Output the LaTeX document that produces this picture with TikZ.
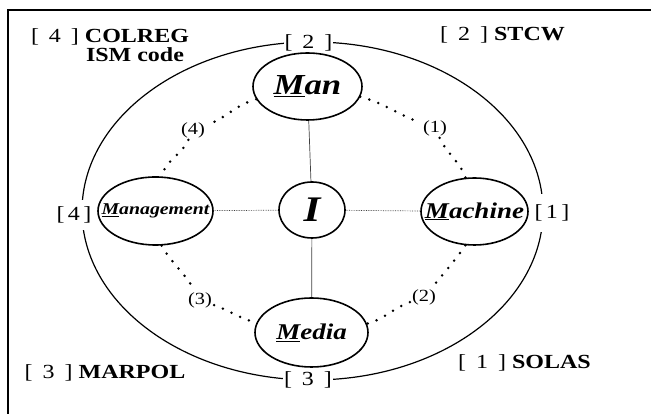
\documentclass[tikz,border=0pt]{standalone}
\usepackage{fontspec}
\newfontfamily\widefont{Liberation Serif}[FakeStretch=1.2]
\usetikzlibrary{backgrounds,shapes,shapes.geometric,positioning}
\pgfdeclarelayer{edgelayer}
\pgfdeclarelayer{nodelayer}
\pgfsetlayers{background,edgelayer,nodelayer,main}
\tikzstyle{none}=[inner sep=0mm]
\tikzstyle{oval}=[shape=ellipse,draw=black,line width=1.6pt,inner sep=0pt]
\tikzstyle{tag}=[fill=white,inner sep=1pt,font=\widefont\fontsize{20}{22}\selectfont]
\tikzstyle{law}=[inner sep=0pt,font=\widefont\fontsize{20}{22}\selectfont]
\tikzstyle{num}=[inner sep=2pt,font=\widefont\fontsize{17}{19}\selectfont]
\tikzstyle{dotarc}=[line width=2.8pt,line cap=round,dash pattern=on 0pt off 9.5pt]
\tikzstyle{spoke}=[line width=0.7pt,draw=black!75]
\tikzstyle{hspoke}=[spoke,densely dotted]
\tikzset{
	word/.style={inner sep=0pt,font=\widefont\bfseries\itshape\fontsize{#1}{#1}\selectfont}
}

\begin{document}
\begin{tikzpicture}[x=1pt,y=1pt]
	\useasboundingbox (0,0) rectangle (651,414);
	% frame
	\draw [line width=2pt] (651,404) -- (8,404) -- (8,0);
	\begin{pgfonlayer}{nodelayer}
		\node [style=oval, minimum width=109pt, minimum height=67pt, label={[word=29]center:{\underline{M}an}}] (man) at (307.5,327.5) {};
		\node [style=oval, minimum width=66pt, minimum height=56pt, label={[word=36]center:{I}}] (i) at (312,204) {};
		\node [style=oval, minimum width=115pt, minimum height=68pt, label={[word=16.5]center:{\underline{M}anagement}}] (mgmt) at (155.5,203) {};
		\node [style=oval, minimum width=107pt, minimum height=67pt, label={[word=22.5]center:{\underline{M}achine}}] (machine) at (474.5,202.5) {};
		\node [style=oval, minimum width=113pt, minimum height=69pt, label={[word=22.5]center:{\underline{M}edia}}] (media) at (311.5,81.5) {};
		\node [style=tag] (t2) at (308.5,371) {[\enspace2\enspace]};
		\node [style=tag] (t3) at (308,34) {[\enspace3\enspace]};
		\node [style=tag, minimum height=38pt] (t1) at (552,201) {[\,1\,]};
		\node [style=tag, minimum height=30pt] (t4) at (74,199) {[\,4\,]};
		\node [style=num] (p1) at (435,286) {(1)};
		\node [style=num] (p2) at (424,117) {(2)};
		\node [style=num] (p3) at (200,114) {(3)};
		\node [style=num] (p4) at (193,284) {(4)};
		\node [style=law] (colreg) at (110,377) {[\enspace4\enspace] \textbf{COLREG}};
		\node [style=law] (ism) at (135,359) {\textbf{ISM code}};
		\node [style=law] (stcw) at (502.5,379) {[\enspace2\enspace] \textbf{STCW}};
		\node [style=law] (marpol) at (105,41) {[\enspace3\enspace] \textbf{MARPOL}};
		\node [style=law] (solas) at (524.5,51) {[\enspace1\enspace] \textbf{SOLAS}};
	\end{pgfonlayer}
	\begin{pgfonlayer}{edgelayer}
		\draw [line width=1.2pt] (312.5,203) ellipse [x radius=230.5, y radius=169];
		\draw [style=spoke] (man) to (i);
		\draw [style=spoke] (i) to (media);
		\draw [style=hspoke] (mgmt) to (i);
		\draw [style=hspoke] (i) to (machine);
		\draw [style=dotarc] (man.-11) to [out=-15, in=160] (p1);
		\draw [style=dotarc] (p1) to [out=-65, in=110] (machine.105);
		\draw [style=dotarc] (machine.255) to [out=-125, in=50] (p2);
		\draw [style=dotarc] (p2) to [out=-160, in=15] (media.9);
		\draw [style=dotarc] (mgmt.280) to [out=-60, in=120] (p3);
		\draw [style=dotarc] (p3) to [out=-20, in=165] (media.170);
		\draw [style=dotarc] (man.194) to [out=195, in=20] (p4);
		\draw [style=dotarc] (p4) to [out=-115, in=75] (mgmt.80);
	\end{pgfonlayer}
\end{tikzpicture}
\end{document}
